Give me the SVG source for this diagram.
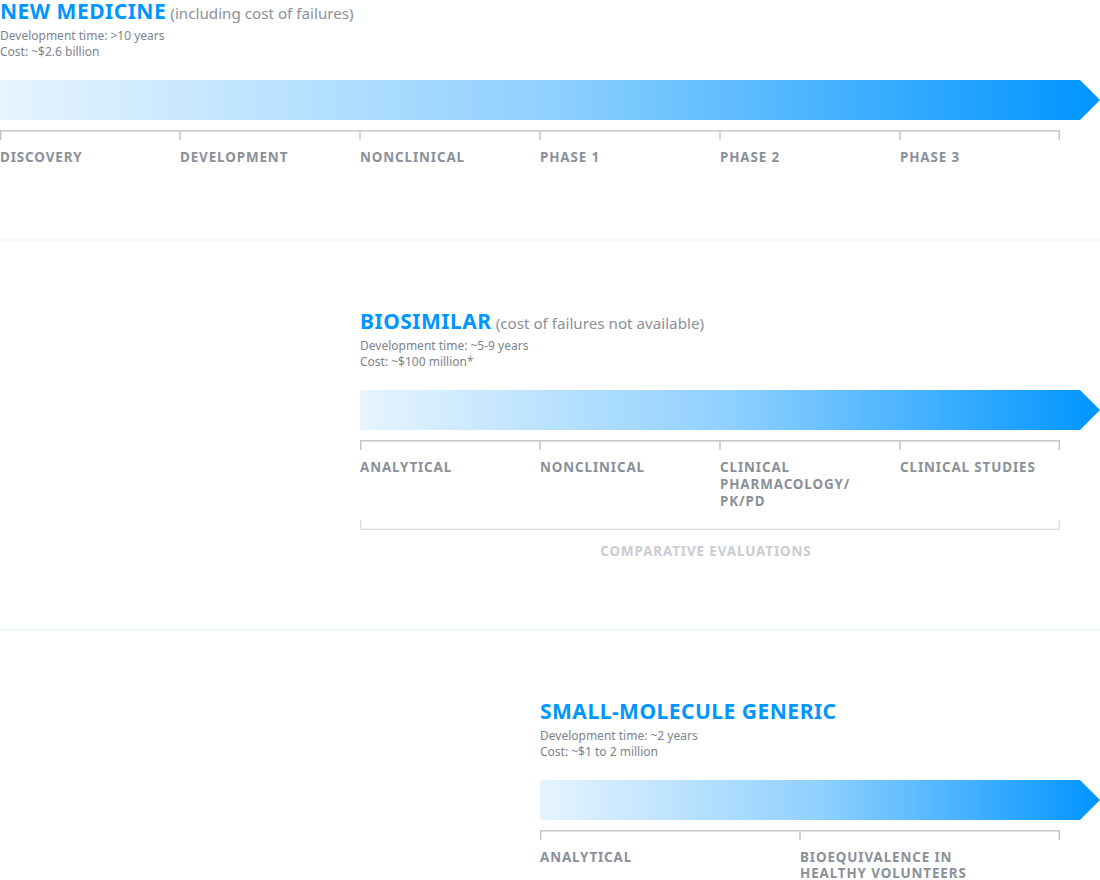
<svg xmlns="http://www.w3.org/2000/svg" width="1100" height="880" viewBox="0 0 1100 880">
<defs>
<linearGradient id="g" x1="0" y1="0" x2="1" y2="0">
<stop offset="0" stop-color="#e6f4fe"/>
<stop offset="0.5" stop-color="#8fd0ff"/>
<stop offset="1" stop-color="#0095ff"/>
</linearGradient>
<style>
text{font-family:"Noto Sans","Open Sans","Liberation Sans",sans-serif}
.t{font-size:21px;font-weight:700;fill:#0096ff;letter-spacing:0.5px}
.s{font-size:15.2px;font-weight:400;fill:#8a9099;letter-spacing:0}
.m{font-size:12px;fill:#7d838c}
.l{font-size:13.4px;font-weight:700;fill:#8a9099;letter-spacing:0.9px}
.c{font-size:13.4px;font-weight:700;fill:#c9ccd1;letter-spacing:0.9px}
.tk{fill:none;stroke:#c3c6cb;stroke-width:1.5}
.br{fill:none;stroke:#dcdfe3;stroke-width:1.5}
.sep{stroke:#eaf6fd;stroke-width:1.5}
</style>
</defs>
<g id="separators">
<line class="sep" x1="0" y1="240" x2="1100" y2="240"/>
<line class="sep" x1="0" y1="630" x2="1100" y2="630"/>
</g>
<g id="new-medicine">
<text x="0" y="19"><tspan class="t">NEW MEDICINE</tspan> <tspan class="s">(including cost of failures)</tspan></text>
<text class="m" x="0" y="40">Development time: &gt;10 years</text>
<text class="m" x="0" y="56">Cost: ~$2.6 billion</text>
<polygon fill="url(#g)" points="0,80 1080,80 1100,100 1080,120 0,120"/>
<path class="tk" d="M0.75,140 V130.75 H1059.25 V140 M180,130 V140 M360,130 V140 M540,130 V140 M720,130 V140 M900,130 V140"/>
<text class="l" x="0" y="162">DISCOVERY</text>
<text class="l" x="180" y="162">DEVELOPMENT</text>
<text class="l" x="360" y="162">NONCLINICAL</text>
<text class="l" x="540" y="162">PHASE 1</text>
<text class="l" x="720" y="162">PHASE 2</text>
<text class="l" x="900" y="162">PHASE 3</text>
</g>
<g id="biosimilar">
<text x="360" y="329"><tspan class="t">BIOSIMILAR</tspan> <tspan class="s">(cost of failures not available)</tspan></text>
<text class="m" x="360" y="350">Development time: ~5-9 years</text>
<text class="m" x="360" y="366">Cost: ~$100 million*</text>
<polygon fill="url(#g)" points="360,390 1080,390 1100,410 1080,430 360,430"/>
<path class="tk" d="M360.75,450 V440.75 H1059.25 V450 M540,440 V450 M720,440 V450 M900,440 V450"/>
<text class="l" x="360" y="472">ANALYTICAL</text>
<text class="l" x="540" y="472">NONCLINICAL</text>
<text class="l" x="720" y="472">CLINICAL</text>
<text class="l" x="720" y="489">PHARMACOLOGY/</text>
<text class="l" x="720" y="506">PK/PD</text>
<text class="l" x="900" y="472">CLINICAL STUDIES</text>
<path class="br" d="M360.75,520 V529.25 H1059.25 V520"/>
<text class="c" x="706" y="556" text-anchor="middle">COMPARATIVE EVALUATIONS</text>
</g>
<g id="generic">
<text class="t" x="540" y="719">SMALL-MOLECULE GENERIC</text>
<text class="m" x="540" y="740">Development time: ~2 years</text>
<text class="m" x="540" y="756">Cost: ~$1 to 2 million</text>
<polygon fill="url(#g)" points="540,780 1080,780 1100,800 1080,820 540,820"/>
<path class="tk" d="M540.75,840 V830.75 H1059.25 V840 M800,830 V840"/>
<text class="l" x="540" y="862">ANALYTICAL</text>
<text class="l" x="800" y="862">BIOEQUIVALENCE IN</text>
<text class="l" x="800" y="878">HEALTHY VOLUNTEERS</text>
</g>
</svg>
